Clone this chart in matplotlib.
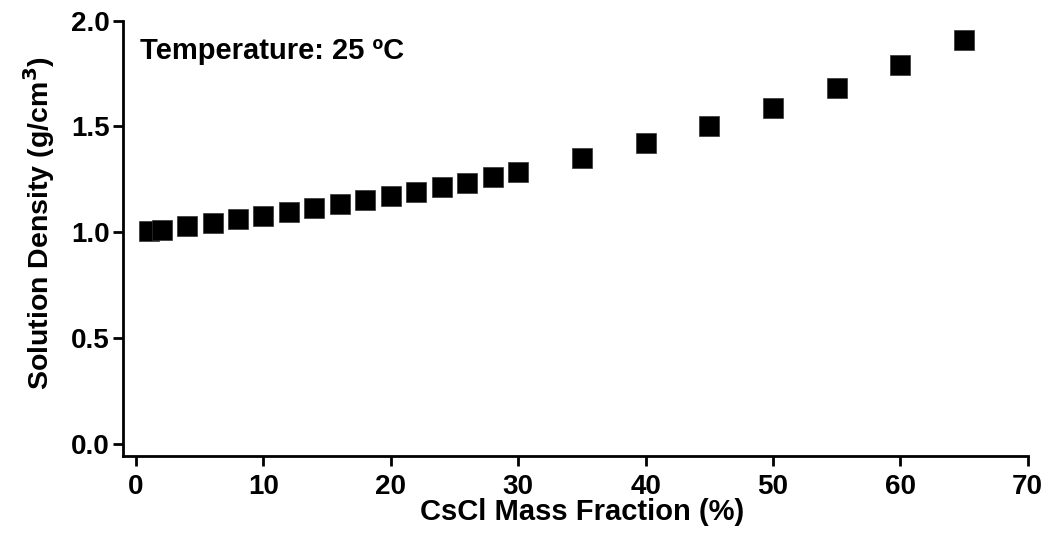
import matplotlib.pyplot as plt

plt.rcParams['font.family'] = ['Liberation Sans', 'DejaVu Sans']
plt.rcParams['font.weight'] = 'bold'

# CsCl mass fraction (%) and solution density (g/cm3) at 25 C
mass_fraction = [1, 2, 4, 6, 8, 10, 12, 14, 16, 18, 20, 22, 24, 26, 28, 30,
                 35, 40, 45, 50, 55, 60, 65]
density = [1.005, 1.012, 1.028, 1.044, 1.061, 1.077, 1.095, 1.113, 1.132,
           1.152, 1.171, 1.192, 1.212, 1.235, 1.259, 1.285,
           1.350, 1.421, 1.500, 1.585, 1.681, 1.789, 1.910]
x_ticks = [0, 10, 20, 30, 40, 50, 60, 70]
y_ticks = [0.0, 0.5, 1.0, 1.5, 2.0]

fig = plt.figure(figsize=(10.47, 5.34), dpi=100)
ax = fig.add_axes([0.1178, 0.1466, 0.8638, 0.815])

ax.plot(mass_fraction, density, linestyle='none', marker='s', markersize=13.8,
        color='black', markeredgecolor='#333333', markeredgewidth=0.5, clip_on=False)

ax.set_xlim(-1, 70)
ax.set_ylim(-0.055, 2.0)
ax.set_xticks(x_ticks)
ax.set_yticks(y_ticks)
ax.set_yticklabels([f'{v:.1f}' for v in y_ticks])

for side in ['top', 'right']:
    ax.spines[side].set_visible(False)
for side in ['left', 'bottom']:
    ax.spines[side].set_linewidth(2.0)
ax.tick_params(direction='out', length=7, width=2.0, labelsize=20)
ax.tick_params(axis='x', pad=6)
ax.tick_params(axis='y', pad=3)

ax.set_xlabel('CsCl Mass Fraction (%)', fontsize=21, fontweight='bold', labelpad=-1, x=0.507)
ax.set_ylabel('Solution Density (g/cm$^\\mathbf{3}$)', fontsize=20.5, fontweight='bold',
              labelpad=10, y=0.535)
ax.text(0.018, 0.962, 'Temperature: 25 ºC', transform=ax.transAxes,
        fontsize=21, fontweight='bold', va='top', ha='left')

fig.savefig('out.png', dpi=100)
